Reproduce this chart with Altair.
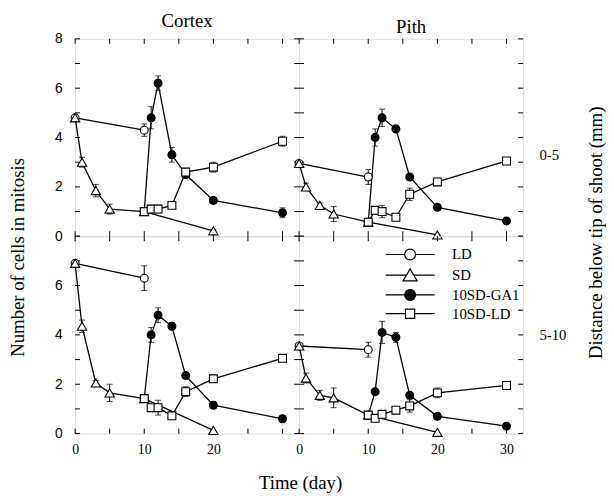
import altair as alt
import pandas as pd

SERIES = ["LD", "SD", "10SD-GA1", "10SD-LD"]
DAYS_LD = [0, 10]
DAYS_SD = [0, 1, 3, 5, 10, 20]
DAYS_TR = [10, 11, 12, 14, 16, 20, 30]
X_TICKS = [0, 5, 10, 15, 20, 25, 30]
Y_TICKS = [0, 1, 2, 3, 4, 5, 6, 7, 8]

# Cortex, 0-5 mm
C1_LD = [4.8, 4.3]
C1_LD_E = [0, 0.25]
C1_SD = [4.8, 3.0, 1.85, 1.1, 1.0, 0.22]
C1_SD_E = [0, 0.2, 0.25, 0.2, 0, 0.05]
C1_GA = [1.0, 4.8, 6.2, 3.3, 2.5, 1.45, 0.95]
C1_GA_E = [0, 0.45, 0.3, 0.3, 0, 0.1, 0.2]
C1_TL = [1.0, 1.1, 1.1, 1.25, 2.6, 2.8, 3.85]
C1_TL_E = [0, 0.15, 0.15, 0.1, 0.15, 0.2, 0.2]

# Pith, 0-5 mm
P1_LD = [2.95, 2.4]
P1_LD_E = [0, 0.3]
P1_SD = [2.95, 2.0, 1.25, 0.9, 0.57, 0.05]
P1_SD_E = [0, 0.15, 0.1, 0.3, 0.05, 0]
P1_GA = [0.57, 4.0, 4.8, 4.35, 2.4, 1.17, 0.62]
P1_GA_E = [0, 0.35, 0.35, 0.15, 0.1, 0.1, 0.05]
P1_TL = [0.57, 1.05, 1.0, 0.77, 1.7, 2.2, 3.05]
P1_TL_E = [0, 0.15, 0.25, 0.1, 0.25, 0.15, 0.1]

# Cortex, 5-10 mm
C2_LD = [6.9, 6.3]
C2_LD_E = [0, 0.5]
C2_SD = [6.9, 4.35, 2.05, 1.65, 1.42, 0.13]
C2_SD_E = [0, 0.25, 0.1, 0.35, 0.15, 0]
C2_GA = [1.42, 4.0, 4.8, 4.35, 2.35, 1.15, 0.6]
C2_GA_E = [0, 0.3, 0.3, 0.15, 0.1, 0.1, 0.05]
C2_TL = [1.42, 1.05, 1.05, 0.72, 1.7, 2.22, 3.05]
C2_TL_E = [0, 0.15, 0.3, 0.1, 0.2, 0.15, 0.1]

# Pith, 5-10 mm
P2_LD = [3.55, 3.4]
P2_LD_E = [0, 0.3]
P2_SD = [3.55, 2.25, 1.55, 1.45, 0.75, 0.05]
P2_SD_E = [0, 0.2, 0.2, 0.4, 0.1, 0]
P2_GA = [0.75, 1.7, 4.1, 3.9, 1.55, 0.7, 0.3]
P2_GA_E = [0, 0.1, 0.45, 0.2, 0.1, 0.1, 0.1]
P2_TL = [0.75, 0.62, 0.78, 0.95, 1.12, 1.65, 1.95]
P2_TL_E = [0, 0.05, 0.05, 0.1, 0.25, 0.2, 0.1]

SERIF = "Liberation Serif"
SANS = "Liberation Sans"
W, H = 227, 200
XS = alt.Scale(domain=[0, 32.4], nice=False, zero=False)
YS = alt.Scale(domain=[0, 8], nice=False, zero=False)

# point styles per series: (shape, fill, size)
STYLE = {
    "LD": ("circle", "white", 64),
    "SD": ("triangle-up", "white", 90),
    "10SD-GA1": ("circle", "black", 64),
    "10SD-LD": ("square", "white", 64),
}

# legend symbols: line with marker (unit square coordinates)
P_CIRCLE = "M-4.5,0H-1M1,0H4.5M1,0A1,1 0 1,1 -1,0A1,1 0 1,1 1,0Z"
P_TRI = "M-4.5,0H-0.62M0.62,0H4.5M0,-1.15L1.3,1.05L-1.3,1.05Z"
P_SQ = "M-4.5,0H-0.85M0.85,0H4.5M-0.85,-0.85H0.85V0.85H-0.85Z"


def frame(ld, ld_e, sd, sd_e, ga, ga_e, tl, tl_e):
    rows = []
    for k, (name, days, vals, errs) in enumerate([
        ("LD", DAYS_LD, ld, ld_e),
        ("SD", DAYS_SD, sd, sd_e),
        ("10SD-GA1", DAYS_TR, ga, ga_e),
        ("10SD-LD", DAYS_TR, tl, tl_e),
    ]):
        for d, v, e in zip(days, vals, errs):
            rows.append({"series": name, "k": k, "day": d, "value": v, "err": e})
    return pd.DataFrame(rows)


def panel(data, x_axis, y_axis, x_title=None, y_title=None, title=None, legend=False):
    def X(f):
        return alt.X(f, type="quantitative", scale=XS, axis=x_axis, title=x_title)

    def Y(f):
        return alt.Y(f, type="quantitative", scale=YS, axis=y_axis, title=y_title)

    ydf = pd.DataFrame({"v": Y_TICKS})
    xdf = pd.DataFrame({"t": X_TICKS})
    tick = dict(color="black", strokeWidth=1)
    layers = [
        alt.Chart(ydf).mark_rule(**tick).encode(y=Y("v"), x=alt.value(0), x2=alt.value(5)),
        alt.Chart(ydf).mark_rule(**tick).encode(y=Y("v"), x=alt.value(W - 5), x2=alt.value(W)),
        alt.Chart(xdf).mark_rule(**tick).encode(x=X("t"), y=alt.value(H - 5), y2=alt.value(H)),
        alt.Chart(xdf).mark_rule(**tick).encode(x=X("t"), y=alt.value(0), y2=alt.value(5)),
    ]
    base = alt.Chart(data)
    errd = base.transform_filter("datum.err > 0").transform_calculate(
        lo="datum.value - datum.err", hi="datum.value + datum.err"
    )
    layers += [
        errd.mark_rule(color="black", strokeWidth=1).encode(x=X("day"), y=Y("lo"), y2="hi:Q"),
        errd.mark_tick(color="black", orient="horizontal", size=6, thickness=1).encode(x=X("day"), y=Y("lo")),
        errd.mark_tick(color="black", orient="horizontal", size=6, thickness=1).encode(x=X("day"), y=Y("hi")),
        base.mark_line(color="black", strokeWidth=1.3).encode(x=X("day"), y=Y("value"), detail="series:N"),
    ]
    for s in SERIES:
        shp, fil, sz = STYLE[s]
        layers.append(
            base.transform_filter(alt.datum.series == s).mark_point(
                shape=shp, filled=True, fill=fil, stroke="black", strokeWidth=1.1, size=sz, opacity=1
            ).encode(x=X("day"), y=Y("value"))
        )
    if legend:
        leg = dict(
            orient="none", legendX=W + 105, legendY=H + 11, title=None,
            labelFont=SERIF, labelFontSize=15, labelColor="black",
            symbolSize=121, symbolStrokeColor="black", symbolStrokeWidth=1.2,
            symbolOpacity=1, labelOffset=35, rowPadding=3, padding=0,
        )
        layers.append(
            base.transform_filter("false").mark_point(filled=False, color="black", strokeWidth=1.2, opacity=1).encode(
                x=X("day"),
                y=Y("value"),
                shape=alt.Shape("series:N", scale=alt.Scale(domain=SERIES, range=[P_CIRCLE, P_TRI, P_CIRCLE, P_SQ]), legend=alt.Legend(**leg)),
                fill=alt.Fill("series:N", scale=alt.Scale(domain=SERIES, range=["white", "white", "black", "white"]), legend=alt.Legend(**leg)),
                stroke=alt.Stroke("series:N", scale=alt.Scale(domain=SERIES, range=["black", "black", "black", "black"]), legend=alt.Legend(**leg)),
            )
        )
    ch = alt.layer(*layers)
    props = dict(width=W, height=H)
    if title:
        props["title"] = alt.TitleParams(title, font=SERIF, fontSize=19, fontWeight="normal",
                                         offset=1, anchor="middle", color="black")
    return ch.properties(**props)


lab = dict(ticks=False, domain=False, grid=False, labelColor="black")
ttl = dict(titleFont=SERIF, titleFontSize=19, titleFontWeight="normal", titleColor="black",
           titleAlign="center", titleBaseline="middle")

ax_left_top = alt.Axis(values=[0, 2, 4, 6, 8], labelFont=SANS, labelFontSize=14, labelPadding=13,
                       titleX=-58, titleY=221, titleAngle=270, **lab, **ttl)
ax_left_bot = alt.Axis(values=[0, 2, 4, 6], labelFont=SANS, labelFontSize=14, labelPadding=13, **lab)
ax_right_top = alt.Axis(orient="right", values=[3.3], labelExpr="'0-5'", labelFont=SERIF, labelFontSize=15,
                        labelPadding=16, titleX=73, titleY=196, titleAngle=270, **lab, **ttl)
ax_right_bot = alt.Axis(orient="right", values=[4.0], labelExpr="'5-10'", labelFont=SERIF, labelFontSize=15,
                        labelPadding=16, **lab)
ax_x_left = alt.Axis(values=[0, 10, 20], labelFont=SERIF, labelFontSize=14, labelPadding=9, labelFlush=False,
                     titleX=228, titleY=50, **lab, **ttl)
ax_x_right = alt.Axis(values=[0, 10, 20, 30], labelFont=SERIF, labelFontSize=14, labelPadding=9,
                      labelFlush=False, **lab)

tl = panel(frame(C1_LD, C1_LD_E, C1_SD, C1_SD_E, C1_GA, C1_GA_E, C1_TL, C1_TL_E),
           None, ax_left_top, y_title="Number of cells in mitosis", title="Cortex")
tr = panel(frame(P1_LD, P1_LD_E, P1_SD, P1_SD_E, P1_GA, P1_GA_E, P1_TL, P1_TL_E),
           None, ax_right_top, y_title="Distance below tip of shoot (mm)", title="Pith")
bl = panel(frame(C2_LD, C2_LD_E, C2_SD, C2_SD_E, C2_GA, C2_GA_E, C2_TL, C2_TL_E),
           ax_x_left, ax_left_bot, x_title="Time (day)")
br = panel(frame(P2_LD, P2_LD_E, P2_SD, P2_SD_E, P2_GA, P2_GA_E, P2_TL, P2_TL_E),
           ax_x_right, ax_right_bot, legend=True)

chart = alt.concat(tl, tr, bl, br, columns=2, spacing=0, bounds="flush").properties(
    padding=0, background="white"
).configure_view(stroke="black", strokeWidth=1.2).configure(font=SERIF)

chart.save("out.html", embed_options={"renderer": "svg", "actions": False})
